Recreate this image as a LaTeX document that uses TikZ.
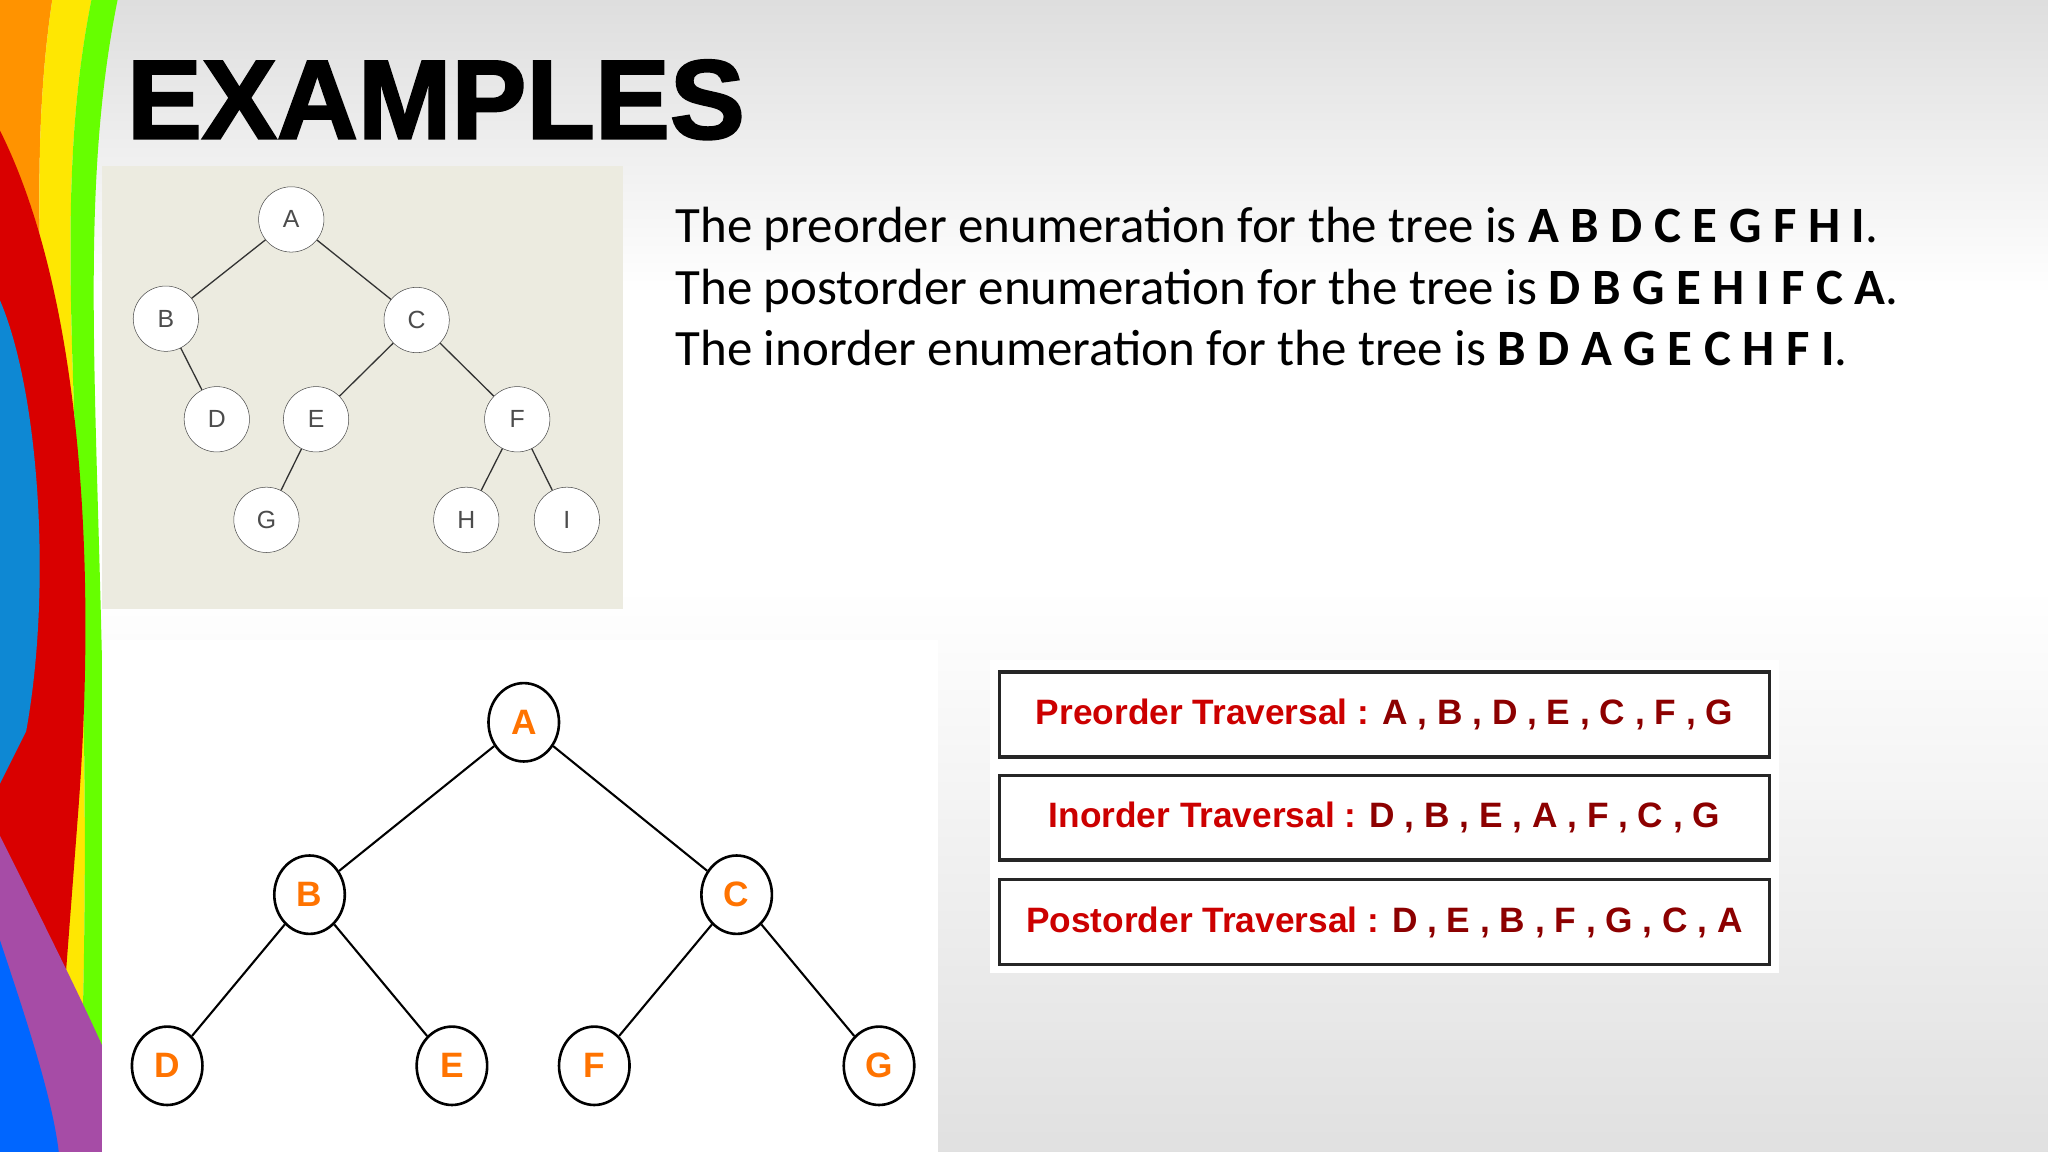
\documentclass[tikz,border=0pt]{standalone}
\usepackage{fontspec}
\setmainfont{Carlito}
\newfontfamily\arial{Liberation Sans}
\newfontfamily\arialblack[FakeBold=2]{Liberation Sans Bold}
\definecolor{beige}{RGB}{236,235,224}
\tikzset{x=1pt,y=-1pt,
 small/.style={circle,draw=black!70,fill=white,minimum size=50pt,inner sep=0pt,font=\arial\fontsize{19}{19}\selectfont,text=black!70},
 big/.style={ellipse,draw=black,line width=2pt,fill=white,minimum width=54pt,minimum height=60pt,inner sep=0pt,font=\arial\bfseries\fontsize{27}{27}\selectfont,text=orange!90!red},
 trav/.style={draw=black!85,line width=2.5pt,minimum width=589pt,minimum height=65pt,font=\arial\bfseries\fontsize{27}{27}\selectfont},
 edge/.style={black!80,line width=1pt},
 bedge/.style={black,line width=1.6pt},
 enum/.style={anchor=base west,inner sep=0pt,font=\fontsize{39}{39}\selectfont}}
\usetikzlibrary{shapes.geometric}
\begin{document}
\begin{tikzpicture}
\useasboundingbox (0,0) rectangle (1568,882);
\shade[top color=black!13,bottom color=white,middle color=white] (0,0) rectangle (1568,450);
\shade[top color=white,bottom color=black!12] (0,450) rectangle (1568,882);
% rainbow
\fill[orange!85!yellow] (0,0) -- (40,0) .. controls (10,200) and (60,400) .. (40,882) -- (0,882) -- cycle;
\fill[yellow!90!orange] (40,0) -- (70,0) .. controls (30,200) and (80,400) .. (60,882) -- (40,882) .. controls (60,400) and (10,200) .. (40,0) -- cycle;
\fill[green!60!yellow] (70,0) -- (90,0) .. controls (50,200) and (90,400) .. (78,882) -- (60,882) .. controls (80,400) and (30,200) .. (70,0) -- cycle;
\fill[red!85!black] (0,100) .. controls (60,220) and (75,420) .. (60,620) -- (40,882) -- (0,882) -- cycle;
\fill[cyan!70!blue] (0,230) .. controls (30,300) and (40,450) .. (20,560) -- (0,600) -- cycle;
\fill[violet!70] (0,640) .. controls (30,700) and (60,760) .. (78,800) -- (78,882) -- (0,882) -- cycle;
\fill[blue!60!cyan] (0,720) .. controls (20,780) and (40,840) .. (45,882) -- (0,882) -- cycle;
\node[anchor=base west,inner sep=0pt,font=\arialblack\fontsize{86}{86}\selectfont] (title) at (97,106) {EXAMPLES};
% top tree
\fill[beige] (78,127) rectangle (477,466);
\node[small] (a) at (223,168) {A};
\node[small] (b) at (127,244) {B};
\node[small] (c) at (319,245) {C};
\node[small] (d) at (166,321) {D};
\node[small] (e) at (242,321) {E};
\node[small] (f) at (396,321) {F};
\node[small] (g) at (204,398) {G};
\node[small] (h) at (357,398) {H};
\node[small] (i) at (434,398) {I};
\draw[edge] (a)--(b) (a)--(c) (b)--(d) (c)--(e) (c)--(f) (e)--(g) (f)--(h) (f)--(i);
% text
\node[enum] (t1) at (517,186) {The preorder enumeration for the tree is \textbf{A B D C E G F H I}.};
\node[enum] (t2) at (517,233) {The postorder enumeration for the tree is \textbf{D B G E H I F C A}.};
\node[enum] (t3) at (517,280) {The inorder enumeration for the tree is \textbf{B D A G E C H F I}.};
% bottom tree
\fill[white] (78,490) rectangle (718,882);
\node[big] (A) at (401,553) {A};
\node[big] (B) at (237,685) {B};
\node[big] (C) at (564,685) {C};
\node[big] (D) at (128,816) {D};
\node[big] (E) at (346,816) {E};
\node[big] (F) at (455,816) {F};
\node[big] (G) at (673,816) {G};
\draw[bedge] (A)--(B) (A)--(C) (B)--(D) (B)--(E) (C)--(F) (C)--(G);
% traversal boxes
\fill[white] (758,505) rectangle (1362,745);
\node[trav] (p1) at (1060,547) {\textcolor{red!80!black}{Preorder Traversal :} \textcolor{red!55!black}{A , B , D , E , C , F , G}};
\node[trav] (p2) at (1060,626) {\textcolor{red!80!black}{Inorder Traversal :} \textcolor{red!55!black}{D , B , E , A , F , C , G}};
\node[trav] (p3) at (1060,706) {\textcolor{red!80!black}{Postorder Traversal :} \textcolor{red!55!black}{D , E , B , F , G , C , A}};
\end{tikzpicture}
\end{document}
